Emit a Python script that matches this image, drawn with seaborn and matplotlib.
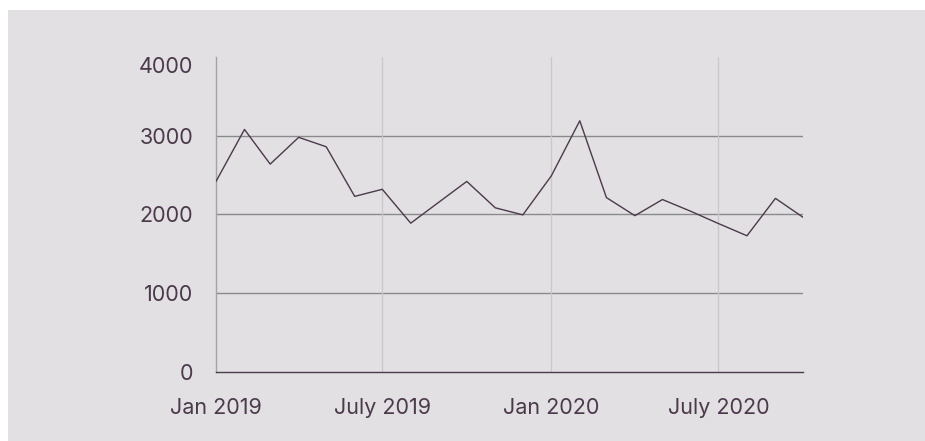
"""Monthly values, Jan 2019 - Oct 2020, as a plain line chart."""

import matplotlib

matplotlib.use("Agg")
import matplotlib.pyplot as plt
import pandas as pd
import seaborn as sns
from matplotlib.patches import Rectangle

months = pd.date_range("2019-01-01", "2020-10-01", freq="MS")
values = [
    2420, 3080, 2640, 2980, 2860, 2230, 2320, 1890, 2160, 2420, 2085,
    1995, 2490, 3190, 2215, 1985, 2190, 2040, 1885, 1730, 2205, 1965,
]
x_ticks = pd.to_datetime(["2019-01-01", "2019-07-01", "2020-01-01", "2020-07-01"])
x_labels = ["Jan 2019", "July 2019", "Jan 2020", "July 2020"]
y_ticks = [0, 1000, 2000, 3000, 4000]

BG = "#e2e0e3"
INK = "#4b3a4b"

sns.set_theme(style="white")
plt.rcParams["font.family"] = ["Inter", "DejaVu Sans"]

df = pd.DataFrame({"month": months, "value": values})

fig = plt.figure(figsize=(9.25, 4.41), dpi=100, facecolor="white")
fig.patches.append(
    Rectangle((8 / 925, 0), 1, 1 - 10 / 441, transform=fig.transFigure,
              facecolor=BG, edgecolor="none", zorder=-10)
)
ax = fig.add_axes([216 / 925, 69 / 441, 587 / 925, 315 / 441])
ax.set_facecolor(BG)

sns.lineplot(data=df, x="month", y="value", ax=ax, color=INK, linewidth=1.0, zorder=3)

ax.set_xlim(months[0], months[-1])
ax.set_ylim(0, 4000)
ax.set_xticks(x_ticks)
ax.set_xticklabels(x_labels)
ax.set_yticks(y_ticks)
ax.set_yticklabels([str(v) for v in y_ticks])
ax.tick_params(axis="both", length=0, labelsize=15.5, colors=INK)
ax.tick_params(axis="x", pad=19)
ax.tick_params(axis="y", pad=16.5)
# top label sits inside the plot height, just under its tick
ax.get_yticklabels()[-1].set_va("top")
ax.set_xlabel("")
ax.set_ylabel("")

# gridlines: darker horizontals, light verticals
for y in [1000, 2000, 3000]:
    ax.axhline(y, color="#8a8a8c", linewidth=1.0, zorder=1)
for x in x_ticks[1:]:
    ax.axvline(x, color="#c9c7ca", linewidth=0.9, zorder=1)

for side in ["top", "right"]:
    ax.spines[side].set_visible(False)
ax.spines["left"].set_color("#a3a2a5")
ax.spines["left"].set_linewidth(1.0)
ax.spines["bottom"].set_color(INK)
ax.spines["bottom"].set_linewidth(1.0)

fig.savefig("out.png", dpi=100, facecolor="white")
